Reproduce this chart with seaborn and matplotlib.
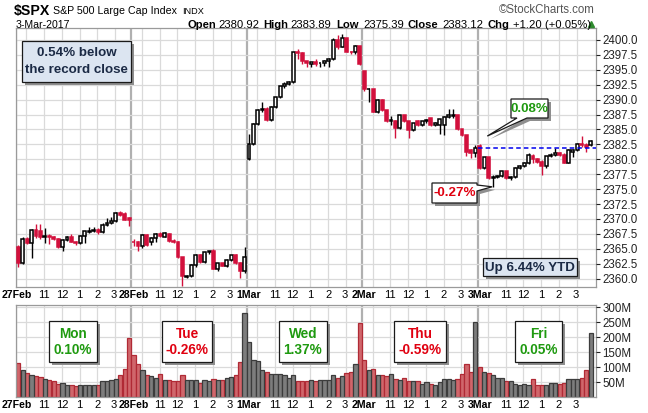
import numpy as np
import pandas as pd
import matplotlib
matplotlib.use("Agg")
import matplotlib.pyplot as plt
import seaborn as sns
from matplotlib.patches import Polygon

# ---------------- data (15-minute bars, 26 per session) ----------------
day_labels = ["27Feb", "28Feb", "1Mar", "2Mar", "3Mar"]
hour_labels = ["11", "12", "1", "2", "3"]
day_names = ["Mon", "Tue", "Wed", "Thu", "Fri"]
day_changes = ["0.10%", "-0.26%", "1.37%", "-0.59%", "0.05%"]

mon_open = [2365.3, 2362.7, 2366.7, 2366.0, 2368.1, 2367.9, 2367.0, 2367.1, 2367.0, 2366.6, 2365.3, 2366.5, 2367.0,
            2366.2, 2365.9, 2367.2, 2367.9, 2368.0, 2368.2, 2367.9, 2369.0, 2369.3, 2369.6, 2371.0, 2370.8, 2370.2]
mon_high = [2365.6, 2367.0, 2366.9, 2368.3, 2369.1, 2369.1, 2368.5, 2367.4, 2367.2, 2366.8, 2366.6, 2367.2, 2367.5,
            2366.3, 2367.3, 2368.0, 2368.6, 2368.7, 2368.5, 2369.3, 2370.1, 2370.3, 2371.1, 2371.4, 2371.2, 2370.4]
mon_low = [2361.9, 2362.4, 2365.8, 2363.5, 2366.8, 2366.7, 2366.0, 2365.8, 2366.4, 2365.2, 2364.6, 2366.3, 2366.1,
           2365.7, 2365.8, 2366.0, 2367.7, 2367.8, 2367.5, 2367.6, 2368.9, 2369.2, 2369.5, 2370.5, 2369.8, 2368.9]
mon_close = [2362.7, 2366.7, 2366.0, 2368.1, 2367.2, 2367.0, 2367.1, 2367.0, 2366.6, 2365.3, 2366.5, 2367.0, 2366.2,
             2365.9, 2367.2, 2367.9, 2368.0, 2368.2, 2367.9, 2369.0, 2369.3, 2369.6, 2371.0, 2370.7, 2369.9, 2369.75]
mon_vol = [113, 92, 79, 72, 69, 67, 61, 58, 53, 44, 47, 39, 39, 36, 41, 41, 41, 41, 41, 53, 53, 58, 61, 72, 94, 198]

tue_open = [2366.2, 2366.1, 2365.4, 2367.3, 2366.1, 2366.8, 2367.5, 2367.0, 2367.5, 2366.3, 2366.2, 2363.6, 2360.2,
            2360.4, 2362.3, 2364.0, 2362.75, 2364.4, 2364.6, 2361.7, 2362.6, 2362.2, 2363.2, 2363.9, 2362.7, 2361.2]
tue_high = [2366.7, 2366.3, 2367.5, 2367.4, 2366.9, 2367.6, 2367.8, 2367.8, 2367.6, 2366.6, 2366.3, 2363.7, 2360.6,
            2362.4, 2364.1, 2364.1, 2364.5, 2364.7, 2364.9, 2362.7, 2362.7, 2363.3, 2364.0, 2364.2, 2362.8, 2365.3]
tue_low = [2365.4, 2364.6, 2365.2, 2365.5, 2365.6, 2366.2, 2367.0, 2366.9, 2366.2, 2365.9, 2363.5, 2358.8, 2360.1,
           2360.2, 2362.0, 2362.6, 2362.6, 2364.2, 2361.6, 2361.2, 2362.1, 2362.0, 2362.9, 2362.5, 2360.1, 2361.0]
tue_close = [2366.1, 2365.4, 2367.3, 2365.7, 2366.8, 2367.5, 2367.2, 2367.6, 2366.3, 2366.2, 2363.6, 2360.4, 2360.4,
             2362.3, 2364.0, 2362.75, 2364.4, 2364.6, 2361.7, 2362.6, 2362.2, 2363.2, 2363.9, 2362.7, 2361.2, 2363.6]
tue_vol = [139, 109, 92, 72, 69, 64, 76, 58, 58, 53, 53, 72, 56, 56, 56, 48, 56, 53, 61, 58, 56, 63, 67, 72, 117, 281]

wed_open = [2380.1, 2382.6, 2385.9, 2388.2, 2388.5, 2386.6, 2388.8, 2390.4, 2392.2, 2392.7, 2393.0, 2397.9, 2397.8,
            2396.4, 2395.9, 2396.3, 2396.1, 2396.1, 2396.5, 2396.8, 2400.0, 2398.9, 2400.3, 2398.0, 2397.9, 2398.9]
wed_high = [2384.3, 2386.0, 2388.4, 2389.6, 2388.7, 2388.9, 2390.5, 2392.3, 2393.0, 2393.2, 2397.9, 2398.4, 2397.9,
            2396.5, 2396.3, 2396.8, 2396.2, 2396.6, 2396.9, 2400.3, 2400.8, 2400.98, 2400.4, 2398.1, 2399.2, 2399.0]
wed_low = [2379.9, 2382.4, 2385.7, 2388.0, 2386.4, 2386.5, 2388.6, 2390.2, 2392.0, 2392.4, 2392.8, 2396.8, 2396.0,
           2395.5, 2395.4, 2395.6, 2395.4, 2395.6, 2395.4, 2396.7, 2398.5, 2398.8, 2397.9, 2397.7, 2397.7, 2395.8]
wed_close = [2382.6, 2385.9, 2388.2, 2388.5, 2386.6, 2388.8, 2390.4, 2392.2, 2392.7, 2393.0, 2397.9, 2397.8, 2396.4,
             2396.1, 2396.3, 2396.0, 2396.1, 2396.5, 2396.8, 2400.0, 2398.9, 2400.3, 2398.0, 2397.9, 2398.9, 2395.96]
wed_vol = [183, 124, 119, 91, 83, 78, 78, 78, 74, 64, 74, 53, 53, 53, 56, 53, 58, 56, 58, 72, 64, 69, 80, 83, 111, 248]

thu_open = [2394.75, 2391.7, 2391.7, 2388.0, 2390.0, 2388.2, 2386.4, 2386.5, 2385.2, 2387.4, 2386.4, 2384.9, 2386.4,
            2385.7, 2386.4, 2386.9, 2385.8, 2385.8, 2385.7, 2387.1, 2387.2, 2387.4, 2385.0, 2384.0, 2381.5, 2381.0]
thu_high = [2394.75, 2392.0, 2391.8, 2390.1, 2390.1, 2388.3, 2387.3, 2386.6, 2387.5, 2387.5, 2386.5, 2386.1, 2386.6,
            2386.5, 2386.8, 2387.0, 2386.3, 2386.8, 2387.2, 2388.5, 2388.4, 2387.5, 2385.1, 2384.1, 2381.7, 2382.4]
thu_low = [2391.5, 2389.6, 2387.9, 2387.8, 2388.1, 2386.3, 2385.7, 2383.6, 2385.0, 2386.2, 2383.6, 2384.7, 2385.5,
           2385.5, 2386.0, 2385.6, 2385.6, 2384.3, 2384.0, 2386.9, 2387.0, 2384.9, 2383.9, 2380.6, 2380.17, 2380.4]
thu_close = [2391.7, 2391.7, 2388.0, 2390.0, 2388.2, 2386.4, 2386.5, 2385.2, 2387.4, 2386.4, 2384.9, 2386.0, 2385.7,
             2386.4, 2386.5, 2385.8, 2386.0, 2386.7, 2387.1, 2387.4, 2387.4, 2385.0, 2384.0, 2381.2, 2381.0, 2381.92]
thu_vol = [124, 91, 94, 72, 72, 69, 76, 61, 58, 64, 53, 53, 53, 44, 50, 44, 41, 50, 59, 59, 56, 59, 78, 109, 85, 252]

fri_open = [2382.2, 2378.6, 2380.3, 2376.8, 2377.1, 2377.2, 2378.0, 2376.8, 2377.0, 2378.6, 2378.8, 2379.3, 2380.6,
            2380.0, 2379.6, 2378.8, 2380.5, 2380.8, 2381.0, 2380.8, 2379.4, 2381.2, 2381.6, 2382.6, 2382.4, 2382.4]
fri_high = [2382.5, 2380.4, 2380.4, 2377.4, 2377.3, 2378.1, 2378.1, 2377.2, 2378.7, 2379.0, 2379.5, 2381.0, 2380.9,
            2380.2, 2379.8, 2380.6, 2381.0, 2381.9, 2381.2, 2381.0, 2381.7, 2381.8, 2382.7, 2383.89, 2382.8, 2383.3]
fri_low = [2378.4, 2378.3, 2376.7, 2375.39, 2376.9, 2377.0, 2376.7, 2376.6, 2376.9, 2378.4, 2378.7, 2379.2, 2379.4,
           2379.3, 2377.3, 2378.6, 2380.3, 2380.6, 2380.6, 2379.3, 2379.3, 2380.4, 2381.4, 2382.1, 2381.3, 2382.3]
fri_close = [2378.6, 2380.3, 2376.8, 2377.1, 2377.2, 2378.0, 2376.8, 2377.0, 2378.6, 2378.8, 2379.3, 2380.8, 2380.0,
             2379.6, 2378.8, 2380.5, 2380.8, 2381.0, 2380.8, 2379.4, 2381.6, 2381.6, 2382.6, 2382.4, 2382.0, 2383.12]
fri_vol = [102, 83, 80, 72, 64, 64, 53, 53, 44, 41, 44, 39, 61, 41, 41, 41, 48, 48, 44, 48, 59, 59, 61, 63, 89, 213]

prev_close = 2381.92
fri_high_pct = "0.08%"
fri_low_pct = "-0.27%"
record_note = "0.54% below\nthe record close"
ytd_note = "Up 6.44% YTD"
header_values = [("Open", "2380.92"), ("High", "2383.89"), ("Low", "2375.39"),
                 ("Close", "2383.12"), ("Chg", "+1.20 (+0.05%)")]

# ---------------- assemble ----------------
opens = np.array(mon_open + tue_open + wed_open + thu_open + fri_open)
highs = np.array(mon_high + tue_high + wed_high + thu_high + fri_high)
lows = np.array(mon_low + tue_low + wed_low + thu_low + fri_low)
closes = np.array(mon_close + tue_close + wed_close + thu_close + fri_close)
vols = np.array(mon_vol + tue_vol + wed_vol + thu_vol + fri_vol, dtype=float)
n = len(opens)
idx = np.arange(n)
up = closes >= opens
per_day = len(mon_open)

sns.set_theme(style="white")
plt.rcParams['font.family'] = ['Liberation Sans', 'DejaVu Sans']

W, H = 648, 413
fig = plt.figure(figsize=(W / 100, H / 100), dpi=100)


def fr(x0, y0, x1, y1):
    return [x0 / W, 1 - y1 / H, (x1 - x0) / W, (y1 - y0) / H]


ax = fig.add_axes(fr(16, 28, 596, 287))
axv = fig.add_axes(fr(16, 305, 596, 397))

XMIN, XMAX = -0.5, n + 0.2
RED = '#d2103c'
GRID = '#dadada'
DAYGRID = '#b0b0b0'

day_starts = [d * per_day - 0.5 for d in range(len(day_labels))]
hour_grid = [d * per_day + h - 0.15 for d in range(len(day_labels)) for h in (2, 6, 10, 14, 18, 22)]
tick_pos, tick_lab = [], []
for d, lab in enumerate(day_labels):
    tick_pos.append(d * per_day - 0.5 + (0.1 if d == 0 else 0.5))
    tick_lab.append(lab)
    for h, hl in zip((6, 10, 14, 18, 22), hour_labels):
        tick_pos.append(d * per_day + h - 0.15 - (0.25 if h == 22 else 0))
        tick_lab.append(hl)

for a in (ax, axv):
    for p in hour_grid:
        a.axvline(p, color=GRID, lw=0.9, zorder=0)
    for p in day_starts:
        a.axvline(p, color=DAYGRID, lw=1.6, zorder=0)

# ---------------- price panel ----------------
for yv in np.arange(2360, 2400.1, 2.5):
    ax.axhline(yv, color=GRID, lw=0.9, zorder=0)

wick_cols = np.where(up, 'black', RED)
ax.vlines(idx, lows, highs, colors=wick_cols, lw=1.0, zorder=2)
body_h = np.maximum(np.abs(closes - opens), 0.07)
ax.bar(idx, body_h, bottom=np.minimum(opens, closes), width=0.66,
       color=np.where(up, 'white', RED), edgecolor=wick_cols, linewidth=1.1, zorder=3)
ax.hlines(prev_close, day_starts[-1], XMAX, colors='#0000ee', linestyles=(0, (3, 2)), lw=1.1, zorder=4)

ax.set_xlim(XMIN, XMAX)
ax.set_ylim(2358.6, 2402.0)
ax.yaxis.tick_right()
ax.set_yticks(np.arange(2360, 2400.1, 2.5))
ax.set_yticklabels([f"{v:.1f}" for v in np.arange(2360, 2400.1, 2.5)])

# ---------------- volume panel ----------------
vol_df = pd.DataFrame({"bar": idx, "volume": vols, "dir": np.where(up, "up", "down")})
sns.barplot(data=vol_df, x="bar", y="volume", hue="dir",
            palette={"up": "#7d7d7d", "down": "#d0666b"}, native_scale=True,
            dodge=False, width=0.95, saturation=1, legend=False, ax=axv, zorder=2)
for p in axv.patches:
    fc = p.get_facecolor()
    p.set_edgecolor('#3c3c3c' if abs(fc[0] - fc[1]) < 0.05 else '#b02a35')
    p.set_linewidth(0.9)
for yv in range(50, 301, 50):
    axv.axhline(yv, color=GRID, lw=0.9, zorder=0)
axv.set_xlim(XMIN, XMAX)
axv.set_ylim(0, 308)
axv.set_xlabel("")
axv.set_ylabel("")
axv.yaxis.tick_right()
axv.set_yticks(range(50, 301, 50))
axv.set_yticklabels([f"{v}M" for v in range(50, 301, 50)])

for a in (ax, axv):
    a.set_facecolor('white')
    a.set_xticks(tick_pos)
    a.set_xticklabels(tick_lab)
    a.tick_params(axis='x', length=0, pad=2.5, labelsize=8.0, colors='black')
    a.tick_params(axis='y', length=3, direction='out', pad=1.5, labelsize=8.3, colors='#222222', width=0.8)
    for t in a.get_xticklabels():
        if t.get_text() in day_labels:
            t.set_fontweight('bold')
            t.set_fontsize(7.6)
    for s in a.spines.values():
        s.set_color('#9a9a9a')
        s.set_linewidth(0.9)
    a.set_axisbelow(False)

# ---------------- overlay (annotations and header) ----------------
ov = fig.add_axes([0, 0, 1, 1], zorder=10)
ov.set_xlim(0, W)
ov.set_ylim(H, 0)
ov.axis('off')
ov.patch.set_alpha(0)


def to_px(x, y):
    disp = ax.transData.transform((x, y))
    return ov.transData.inverted().transform(disp)


def shaded_poly(pts, fc, off=3):
    pts = np.asarray(pts, dtype=float)
    ov.add_patch(Polygon(pts + off, closed=True, fc='#8e8e8e', ec='none'))
    ov.add_patch(Polygon(pts, closed=True, fc=fc, ec='#1a1a1a', lw=0.9))


def rect_pts(x0, y0, x1, y1):
    return [(x0, y0), (x1, y0), (x1, y1), (x0, y1)]


GREEN = '#1f9a10'
TXTRED = '#e00010'
NAVY = '#1b2a45'

# blue notes
shaded_poly(rect_pts(22, 41, 131, 82), '#dce5f1')
ov.text(76.5, 61.5, record_note, ha='center', va='center', fontsize=9.6, fontweight='bold',
        color=NAVY, linespacing=1.55)
shaded_poly(rect_pts(483, 258, 577, 276), '#dce5f1')
ov.text(530, 267.5, ytd_note, ha='center', va='center', fontsize=9.6, fontweight='bold', color=NAVY)

# high / low callouts
tip_hi = to_px(day_starts[-1] + 2.2, highs[-per_day:].max())
shaded_poly([(511, 99), (548, 99), (548, 118), (527, 118), tuple(tip_hi), (517, 118), (511, 118)], 'white')
ov.text(529.5, 109, fri_high_pct, ha='center', va='center', fontsize=9.6, fontweight='bold', color=GREEN)
tip_lo = to_px(day_starts[-1] + 3.3, lows[-per_day:].min())
shaded_poly([(432, 183), (477, 183), (477, 185), tuple(tip_lo), (477, 191), (477, 203), (432, 203)], 'white')
ov.text(454.5, 193.5, fri_low_pct, ha='center', va='center', fontsize=9.6, fontweight='bold', color=TXTRED)

# daily change boxes in the volume panel
box_x = [(49, 97), (162, 212), (279, 327), (394, 446), (515, 562)]
for (x0, x1), nm, ch in zip(box_x, day_names, day_changes):
    col = TXTRED if ch.startswith('-') else GREEN
    shaded_poly(rect_pts(x0, 321, x1, 362), 'white')
    ov.text((x0 + x1) / 2, 333.5, nm, ha='center', va='center', fontsize=9.8, fontweight='bold', color=col)
    ov.text((x0 + x1) / 2, 350.5, ch, ha='center', va='center', fontsize=9.8, fontweight='bold', color=col)

# header
ov.text(14, 14.5, "$SPX", ha='left', va='baseline', fontsize=10.2, fontweight='bold', color='black')
ov.text(53, 14, "S&P 500 Large Cap Index", ha='left', va='baseline', fontsize=7.7, color='black')
ov.text(182, 13.5, "INDX", ha='left', va='baseline', fontsize=6.6, color='black')
ov.text(16, 27.5, "3-Mar-2017", ha='left', va='baseline', fontsize=7.6, color='black')
ov.text(595, 13, "\u00a9StockCharts.com", ha='right', va='baseline', fontsize=8.3, color='#555555')
label_x = [187, 263, 336, 408, 488]
value_x = [218, 290, 363, 442, 513]
for (lab, val), lx, vx in zip(header_values, label_x, value_x):
    ov.text(lx, 27.5, lab, ha='left', va='baseline', fontsize=8.1, fontweight='bold', color='black')
    ov.text(vx, 27.5, val, ha='left', va='baseline', fontsize=8.1, color='black')
ov.plot([591], [23.5], marker='^', color='#2e8b2e', markersize=4.5, linestyle='none')

fig.savefig("out.png", dpi=100, facecolor='white')
